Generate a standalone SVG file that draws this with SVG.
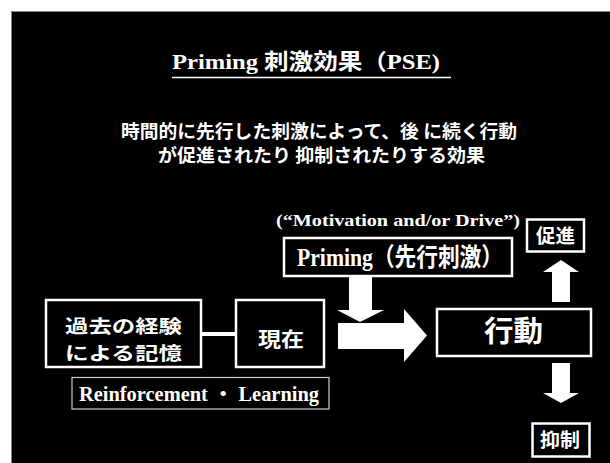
<svg xmlns="http://www.w3.org/2000/svg" width="610" height="463" viewBox="0 0 610 463">
<style>
.bg{fill:#000;stroke:#808080;stroke-width:1}
.box{fill:none;stroke:#fff;stroke-width:2.5}
.thin{fill:none;stroke:#ccc;stroke-width:1.2}
.jp{font-family:"Noto Sans CJK JP","Noto Sans CJK SC",sans-serif;font-weight:bold;fill:#fff}
.en{font-family:"Liberation Serif","Noto Sans CJK JP",serif;font-weight:bold;fill:#fff}
.arrow{fill:#fff;stroke:none}
</style>
<rect width="610" height="463" fill="#fff"/>
<rect class="bg" x="11.5" y="11.5" width="600" height="453"/>
<g id="title">
<text class="en" x="172" y="69" font-size="22" textLength="268" lengthAdjust="spacingAndGlyphs">Priming 刺激効果（PSE)</text>
<line x1="172" y1="77.5" x2="451" y2="77.5" stroke="#fff" stroke-width="1.5"/>
</g>
<g id="subtitle">
<text class="jp" x="121" y="138" font-size="18.5" textLength="396" lengthAdjust="spacingAndGlyphs">時間的に先行した刺激によって、後 に続く行動</text>
<text class="jp" x="158" y="162" font-size="18.5" textLength="327" lengthAdjust="spacingAndGlyphs">が促進されたり 抑制されたりする効果</text>
</g>
<g id="motivation">
<text class="en" x="276" y="225.5" font-size="17" textLength="244" lengthAdjust="spacingAndGlyphs">(“Motivation and/or Drive”)</text>
</g>
<g id="priming">
<rect class="box" x="284" y="238" width="228" height="38" stroke-width="2"/>
<text class="en" x="297" y="266" font-size="25" textLength="206" lengthAdjust="spacingAndGlyphs">Priming（先行刺激）</text>
</g>
<g id="memory">
<rect class="box" x="46" y="300" width="155" height="67"/>
<text class="jp" x="65" y="333" font-size="18" textLength="117" lengthAdjust="spacingAndGlyphs">過去の経験</text>
<text class="jp" x="65" y="359.5" font-size="18" textLength="117" lengthAdjust="spacingAndGlyphs">による記憶</text>
</g>
<g id="present">
<rect class="box" x="236" y="300" width="88" height="67"/>
<text class="jp" x="258" y="347" font-size="20" textLength="46" lengthAdjust="spacingAndGlyphs">現在</text>
</g>
<g id="reinforcement">
<rect class="thin" x="72" y="377.5" width="257" height="31.5"/>
<text class="en" x="79" y="400.7" font-size="20" textLength="240" lengthAdjust="spacingAndGlyphs">Reinforcement ・ Learning</text>
</g>
<g id="action">
<rect class="box" x="437" y="309" width="154" height="47" stroke-width="2"/>
<text class="jp" x="484" y="342" font-size="29" textLength="59" lengthAdjust="spacingAndGlyphs">行動</text>
</g>
<g id="promote">
<rect class="box" x="527" y="219.5" width="57" height="32" stroke-width="2"/>
<text class="jp" x="536" y="242.7" font-size="19.5" textLength="39" lengthAdjust="spacingAndGlyphs">促進</text>
</g>
<g id="inhibit">
<rect class="box" x="532.5" y="423.5" width="57" height="33" stroke-width="2"/>
<text class="jp" x="540" y="446.7" font-size="19.5" textLength="40" lengthAdjust="spacingAndGlyphs">抑制</text>
</g>
<g id="connectors">
<line x1="201" y1="334" x2="236" y2="334" stroke="#fff" stroke-width="4"/>
<polygon class="arrow" points="349,276 372,276 372,310 384,310 360,322 337,310 349,310"/>
<polygon class="arrow" points="338,323 404,323 404,309 427,335.5 404,362 404,349 338,349"/>
<polygon class="arrow" points="552,302 552,272 543,272 561,260 579,272 570,272 570,302"/>
<polygon class="arrow" points="552,363 570,363 570,393 579,393 561,403 543,393 552,393"/>
</g>
</svg>
